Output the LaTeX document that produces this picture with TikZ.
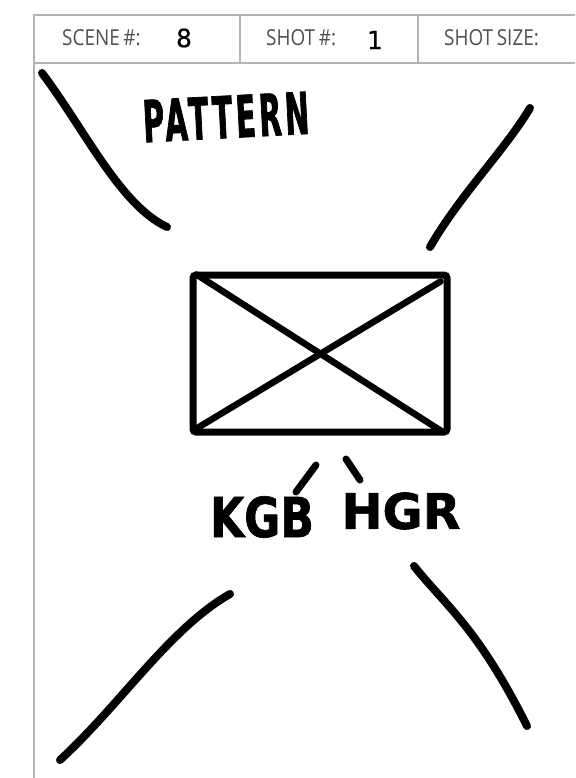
\documentclass[tikz,border=0pt]{standalone}
\usepackage{fontspec}
\newfontfamily\hdrfont[FakeStretch=0.86]{Open Sans}
\newfontfamily\digitfont[FakeBold=0.6]{DejaVu Sans}
\newfontfamily\handnarrow[FakeBold=1.2, FakeStretch=0.5, LetterSpace=6]{DejaVu Sans Bold}
\newfontfamily\handmid[FakeBold=1.2, FakeStretch=0.8]{DejaVu Sans Bold}
\newfontfamily\handwide[FakeBold=1.2]{DejaVu Sans Bold}
\definecolor{framegray}{HTML}{B4B4B4}
\definecolor{labelgray}{HTML}{505050}
\tikzset{
  frameline/.style={draw=framegray, line width=1.6},
  hdrlabel/.style={font=\hdrfont\fontsize{22}{22}\selectfont, text=labelgray, inner sep=0pt, anchor=west},
  handnum/.style={font=\digitfont\fontsize{25}{25}\selectfont, text=black, inner sep=0pt},
  marker/.style={draw=black, line width=8, line cap=round, line join=round},
  handtext/.style={text=black, inner sep=0pt},
  sketchbox/.style={draw=black, line width=7, rounded corners=3, minimum width=254, minimum height=157, inner sep=0pt}
}
\begin{document}
\begin{tikzpicture}[x=1pt, y=-1pt]
\useasboundingbox[fill=white] (0,0) rectangle (575,778);
% header frame
\coordinate (tl) at (33,15);
\coordinate (tr) at (575,15);
\coordinate (hl) at (33,63);
\coordinate (hr) at (575,63);
\coordinate (bl) at (34,778);
\coordinate (d1t) at (240,15);
\coordinate (d1b) at (240,63);
\coordinate (d2t) at (418,15);
\coordinate (d2b) at (418,63);
\draw[frameline, line width=2.6] (tl) -- (tr);
\draw[frameline] (hl) -- (hr);
\draw[frameline] (34,15) -- (bl);
\draw[frameline] (d1t) -- (d1b);
\draw[frameline] (d2t) -- (d2b);
% header labels
\node[hdrlabel] (scene) at (62,38) {SCENE\,\#:};
\node[handnum] (scenenum) at (184,38) {8};
\node[hdrlabel] (shot) at (266,38) {SHOT\,\#:};
\node[handnum] (shotnum) at (375,40) {1};
\node[hdrlabel] (shotsize) at (444,38) {SHOT\,SIZE:};
% corner strokes
\coordinate (a1) at (42,73);
\coordinate (a2) at (167,227);
\draw[marker] (a1) .. controls (85,130) and (120,205) .. (a2);
\coordinate (b1) at (530,108);
\coordinate (b2) at (430,247);
\draw[marker] (b1) .. controls (505,150) and (460,195) .. (b2);
\coordinate (c1) at (230,594);
\coordinate (c2) at (60,760);
\draw[marker] (c1) .. controls (170,628) and (120,705) .. (c2);
\coordinate (e1) at (414,566);
\coordinate (e2) at (527,726);
\draw[marker] (e1) .. controls (445,605) and (478,628) .. (e2);
% central box with cross
\node[sketchbox] (box) at (320,353.5) {};
\draw[line width=6.5, line cap=round] ([shift={(7,3)}]box.north west) -- ([shift={(-10,-5)}]box.south east);
\draw[line width=6.5, line cap=round] ([shift={(-10,10)}]box.north east) -- ([shift={(7,-7)}]box.south west);
% handwritten labels
\node[handtext, font=\handnarrow\fontsize{58}{58}\selectfont, rotate=3] (pattern) at (226,117) {PATTERN};
\node[handtext, font=\handmid\fontsize{55}{55}\selectfont] (kgb) at (262,517) {KGB};
\node[handtext, font=\handwide\fontsize{49}{49}\selectfont] (hgr) at (401,511) {HGR};
\coordinate (s1) at (296,492);
\coordinate (s2) at (316,465);
\draw[marker, line width=7] (s1) -- (s2);
\coordinate (t1) at (346,459);
\coordinate (t2) at (360,480);
\draw[marker, line width=7] (t1) -- (t2);
\end{tikzpicture}
\end{document}
